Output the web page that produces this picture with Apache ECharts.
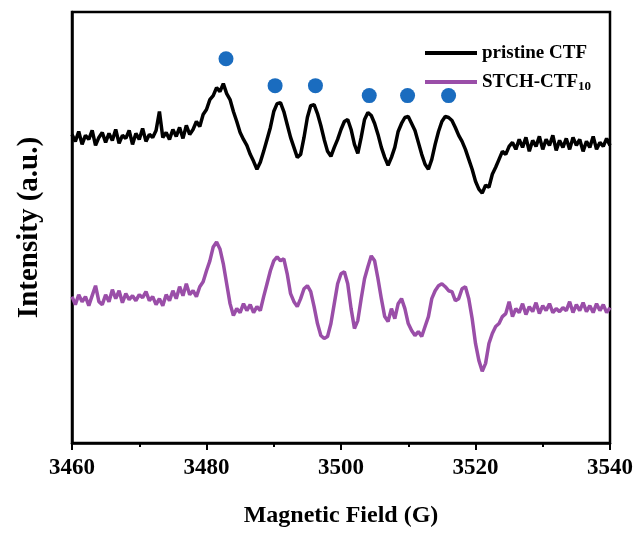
<!DOCTYPE html>
<html>
<head>
<meta charset="utf-8">
<script src="https://cdn.jsdelivr.net/npm/echarts@6/dist/echarts.min.js"></script>
<style>html,body{margin:0;padding:0;background:#fff}#c{width:641px;height:533px}</style>
</head>
<body>
<div id="c"></div>
<script>
// Magnetic field (G)
const fieldG = [
3460,3460.5,3461,3461.5,3462,3462.5,3463,3463.5,3464,3464.5,3465,3465.5,3466,3466.5,3467,3467.5,3468,3468.5,3469,3469.5,
3470,3470.5,3471,3471.5,3472,3472.5,3473,3473.5,3474,3474.5,3475,3475.5,3476,3476.5,3477,3477.5,3478,3478.5,3479,3479.5,
3480,3480.5,3481,3481.5,3482,3482.5,3483,3483.5,3484,3484.5,3485,3485.5,3486,3486.5,3487,3487.5,3488,3488.5,3489,3489.5,
3490,3490.5,3491,3491.5,3492,3492.5,3493,3493.5,3494,3494.5,3495,3495.5,3496,3496.5,3497,3497.5,3498,3498.5,3499,3499.5,
3500,3500.5,3501,3501.5,3502,3502.5,3503,3503.5,3504,3504.5,3505,3505.5,3506,3506.5,3507,3507.5,3508,3508.5,3509,3509.5,
3510,3510.5,3511,3511.5,3512,3512.5,3513,3513.5,3514,3514.5,3515,3515.5,3516,3516.5,3517,3517.5,3518,3518.5,3519,3519.5,
3520,3520.5,3521,3521.5,3522,3522.5,3523,3523.5,3524,3524.5,3525,3525.5,3526,3526.5,3527,3527.5,3528,3528.5,3529,3529.5,
3530,3530.5,3531,3531.5,3532,3532.5,3533,3533.5,3534,3534.5,3535,3535.5,3536,3536.5,3537,3537.5,3538,3538.5,3539,3539.5,
3540];
// Intensity (a.u.), offset traces
const pristineCTF = [
310,303,313,300,309,305,314,299,307,312,302,311,304,315,301,309,306,314,300,311,
305,316,303,310,307,314,333,307,312,305,315,308,317,306,319,310,315,323,318,330,
335,345,349,357,353,361,351,345,333,323,312,305,299,290,283,275,282,293,305,317,
333,341,342,333,320,307,297,287,290,307,327,339,340,331,319,305,293,288,297,305,
315,323,325,315,300,291,307,325,332,329,321,310,297,287,279,287,297,313,321,327,
328,321,314,302,290,280,275,285,300,313,323,328,327,324,317,309,303,295,285,275,
263,255,251,259,257,270,277,285,293,290,298,302,295,305,297,307,293,304,298,308,
295,305,299,309,294,304,297,306,295,307,299,305,293,303,297,308,295,302,298,306,
299];
const stchCTF10 = [
147,139,149,142,147,138,148,158,142,139,149,142,154,145,153,141,150,144,148,143,
149,146,152,143,147,139,145,138,149,143,153,145,157,148,160,149,153,147,157,162,
173,183,197,202,195,180,160,140,128,135,131,140,133,139,131,137,133,147,160,173,
183,187,183,185,170,150,142,137,145,155,158,152,137,120,108,105,107,120,140,160,
170,172,160,135,115,123,145,165,177,188,183,165,145,127,122,135,125,140,145,135,
120,113,108,112,107,117,127,145,153,158,160,157,153,152,143,145,155,157,145,125,
100,83,72,80,100,110,117,120,127,130,142,127,135,131,140,129,137,132,141,130,
138,133,140,131,135,132,136,133,142,131,139,133,141,132,138,131,140,133,139,131,
136];
// marked hyperfine peaks
const peakField = [3482.9, 3490.2, 3496.2, 3504.2, 3509.9, 3516.0];
const peakMark = [386, 359, 359, 349, 349, 349];
const seriesNames = ['pristine CTF', 'STCH-CTF10'];
const xTicks = [3460, 3480, 3500, 3520, 3540];

const zip = (xs, ys) => xs.map((x, i) => [x, ys[i]]);
const font = 'Liberation Serif';
const chart = echarts.init(document.getElementById('c'), null, {renderer: 'canvas'});
chart.setOption({
  animation: false,
  backgroundColor: '#fff',
  grid: {left: 72, right: 31, top: 12, bottom: 88, show: true, borderColor: '#000', borderWidth: 2.5, backgroundColor: 'transparent'},
  legend: {
    data: seriesNames,
    orient: 'vertical',
    left: 420, top: 37,
    itemWidth: 52, itemHeight: 4, itemGap: 7,
    icon: 'rect',
    formatter: n => n === 'STCH-CTF10' ? '{b|STCH-CTF}{s|10}' : '{b|pristine CTF}',
    textStyle: {
      fontFamily: font, fontWeight: 'bold', fontSize: 19, color: '#000', lineHeight: 22,
      rich: {
        b: {fontFamily: font, fontWeight: 'bold', fontSize: 19, color: '#000', lineHeight: 22},
        s: {fontFamily: font, fontWeight: 'bold', fontSize: 13, color: '#000', lineHeight: 22, verticalAlign: 'bottom', padding: [8, 0, 0, 0]}
      }
    }
  },
  xAxis: {
    type: 'value', min: xTicks[0], max: xTicks[xTicks.length - 1], interval: 20,
    name: 'Magnetic Field (G)', nameLocation: 'middle', nameGap: 61,
    nameTextStyle: {fontFamily: font, fontWeight: 'bold', fontSize: 24, color: '#000'},
    axisLine: {lineStyle: {color: '#000', width: 2.5}},
    axisTick: {show: true, inside: false, length: 7, lineStyle: {color: '#000', width: 2}},
    minorTick: {show: true, splitNumber: 2, length: 4, lineStyle: {color: '#000', width: 2}},
    axisLabel: {fontFamily: font, fontWeight: 'bold', fontSize: 23, color: '#000', margin: 14, formatter: v => String(v)},
    splitLine: {show: false}
  },
  yAxis: {
    type: 'value', min: 0, max: 433,
    name: 'Intensity (a.u.)', nameLocation: 'middle', nameGap: 28, nameRotate: 90,
    nameTextStyle: {fontFamily: font, fontWeight: 'bold', fontSize: 29, color: '#000'},
    axisLine: {show: true, lineStyle: {color: '#000', width: 2.5}},
    axisTick: {show: false}, axisLabel: {show: false}, splitLine: {show: false}
  },
  series: [
    {name: seriesNames[0], type: 'line', data: zip(fieldG, pristineCTF), symbol: 'none', color: '#000', lineStyle: {color: '#000', width: 3.5}},
    {name: seriesNames[1], type: 'line', data: zip(fieldG, stchCTF10), symbol: 'none', color: '#9a4ea8', lineStyle: {color: '#9a4ea8', width: 3.5}},
    {name: 'peaks', type: 'scatter', data: zip(peakField, peakMark), symbol: 'circle', symbolSize: 15, itemStyle: {color: '#1a6cbf', opacity: 1}}
  ]
});
</script>
</body>
</html>
